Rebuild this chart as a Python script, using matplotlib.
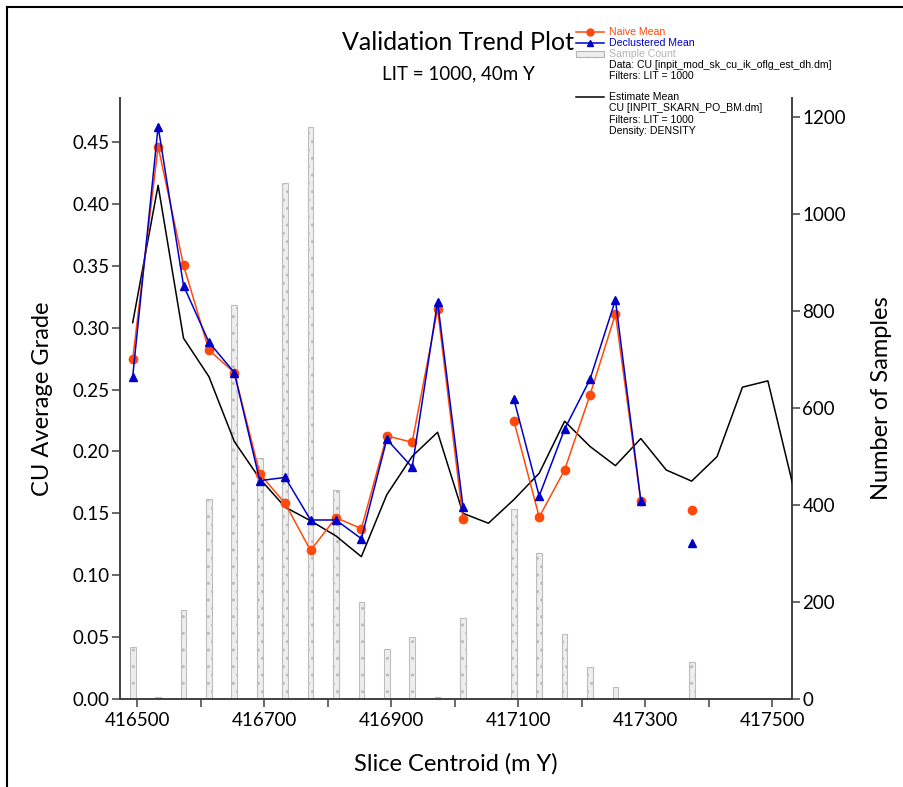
import numpy as np
import matplotlib.pyplot as plt
from matplotlib.lines import Line2D
from matplotlib.patches import Rectangle

# Slice centroids (m Y), 40 m slices
centroids = [416493 + 40 * k for k in range(27)]

naive_mean = [0.2745, 0.4463, 0.3504, 0.2818, 0.2637, 0.182, 0.158, 0.120, 0.1465,
              0.1376, 0.2125, 0.2074, 0.315, 0.1452, np.nan, 0.2249, 0.147, 0.185,
              0.2457, 0.311, 0.1597, np.nan, 0.1525, np.nan, np.nan, np.nan, np.nan]
declustered_mean = [0.2604, 0.4624, 0.334, 0.2882, 0.2637, 0.1764, 0.179, 0.1446, 0.1446,
                    0.1295, 0.2098, 0.1872, 0.321, 0.1554, np.nan, 0.2424, 0.164, 0.218,
                    0.2583, 0.3224, 0.160, np.nan, 0.126, np.nan, np.nan, np.nan, np.nan]
estimate_mean = [0.304, 0.415, 0.2915, 0.2604, 0.208, 0.178, 0.155, 0.144, 0.1317,
                 0.115, 0.165, 0.196, 0.2155, 0.150, 0.142, 0.161, 0.1824, 0.2244,
                 0.204, 0.1885, 0.2104, 0.185, 0.176, 0.1958, 0.2519, 0.257, 0.1715]
sample_count = [108, 5, 183, 412, 812, 496, 1063, 1180, 431, 200, 104, 128, 5, 168,
                3, 391, 302, 133, 65, 24, 0, 3, 76, 3, 3, 3, 3]

W, H = 904, 787
plt.rcParams['hatch.color'] = '#b4b4b4'
fig = plt.figure(figsize=(W / 100, H / 100), dpi=100)
main_font = 'Lato'
leg_font = 'Liberation Sans'

ax = fig.add_axes([120 / W, 1 - 699 / H, (792 - 120) / W, (699 - 98) / H])
ax2 = ax.twinx()
ax.set_zorder(ax2.get_zorder() + 1)
ax.patch.set_visible(False)

orange = '#ff4a0a'
blue = '#0000c8'

# sample count bars
ax2.bar(centroids, sample_count, width=9, color='#eeeeee', edgecolor='#bdbdbd',
        linewidth=0.8, hatch='..')

ax.plot(centroids, estimate_mean, color='black', lw=1.1)
ax.plot(centroids, naive_mean, color=orange, lw=1.1, marker='o', ms=6)
ax.plot(centroids, declustered_mean, color=blue, lw=1.1, marker='^', ms=6)

ax.set_xlim(416473, 417531)
ax.set_ylim(0, 0.4855)
ax2.set_ylim(0, 1239)

xt = np.arange(416500, 417501, 100)
ax.set_xticks(xt)
ax.set_xticklabels([str(v) if (v - 416500) % 200 == 0 else '' for v in xt])
ax.set_yticks(np.arange(0, 0.451, 0.05))
ax.set_yticklabels([f'{v:.2f}' for v in np.arange(0, 0.451, 0.05)])
ax2.set_yticks(np.arange(0, 1201, 200))

for a in (ax, ax2):
    a.spines['top'].set_visible(False)
    for s in a.spines.values():
        s.set_color('#404040')
        s.set_linewidth(1.4)
    a.tick_params(direction='out', length=6, width=1.1, color='#404040',
                  labelsize=13.5, pad=1.5)
    for lab in a.get_xticklabels() + a.get_yticklabels():
        lab.set_fontfamily(main_font)
ax.tick_params(axis='x', pad=3)
ax.spines['right'].set_visible(False)
ax2.spines['left'].set_visible(False)
ax2.spines['bottom'].set_visible(False)

ax.set_ylabel('CU Average Grade', fontsize=17, family=main_font, labelpad=14)
ax2.set_ylabel('Number of Samples', fontsize=17, family=main_font, labelpad=18)
ax.set_xlabel('Slice Centroid (m Y)', fontsize=17, family=main_font, labelpad=18)

fig.text(458 / W, 1 - 43 / H, 'Validation Trend Plot', ha='center', va='center',
         fontsize=18, family=main_font)
fig.text(458 / W, 1 - 74 / H, 'LIT = 1000, 40m Y', ha='center', va='center',
         fontsize=13.5, family=main_font)

# legend drawn by hand in pixel positions
def fx(x):
    return x / W

def fy(y):
    return 1 - y / H

fig.add_artist(Line2D([fx(576), fx(604)], [fy(32), fy(32)], color=orange, lw=1.1,
                      transform=fig.transFigure))
fig.add_artist(Line2D([fx(590)], [fy(32)], color=orange, marker='o', ms=5,
                      transform=fig.transFigure))
fig.add_artist(Line2D([fx(576), fx(604)], [fy(43), fy(43)], color=blue, lw=1.1,
                      transform=fig.transFigure))
fig.add_artist(Line2D([fx(590)], [fy(43)], color=blue, marker='^', ms=5,
                      transform=fig.transFigure))
fig.add_artist(Rectangle((fx(576), fy(57)), fx(28), (6 / H), facecolor='#eeeeee',
                         edgecolor='#b4b4b4', lw=0.8, hatch='..',
                         transform=fig.transFigure))
fig.add_artist(Line2D([fx(576), fx(604)], [fy(97), fy(97)], color='black', lw=1.1,
                      transform=fig.transFigure))

legend_rows = [
    (32, 'Naive Mean', orange),
    (43, 'Declustered Mean', blue),
    (54, 'Sample Count', '#b4b4b4'),
    (65, 'Data: CU [inpit_mod_sk_cu_ik_oflg_est_dh.dm]', 'black'),
    (76, 'Filters: LIT = 1000', 'black'),
    (97, 'Estimate Mean', 'black'),
    (108, 'CU [INPIT_SKARN_PO_BM.dm]', 'black'),
    (120, 'Filters: LIT = 1000', 'black'),
    (131, 'Density: DENSITY', 'black'),
]
for y, txt, c in legend_rows:
    fig.text(fx(609), fy(y), txt, color=c, fontsize=7.6, family=leg_font,
             ha='left', va='center')

# outer frame (top and left edges)
fig.add_artist(Line2D([fx(7), fx(7)], [fy(7), 0], color='black', lw=1.5,
                      transform=fig.transFigure))
fig.add_artist(Line2D([fx(7), 1], [fy(7), fy(7)], color='black', lw=1.5,
                      transform=fig.transFigure))

fig.savefig('out.png', dpi=100)
